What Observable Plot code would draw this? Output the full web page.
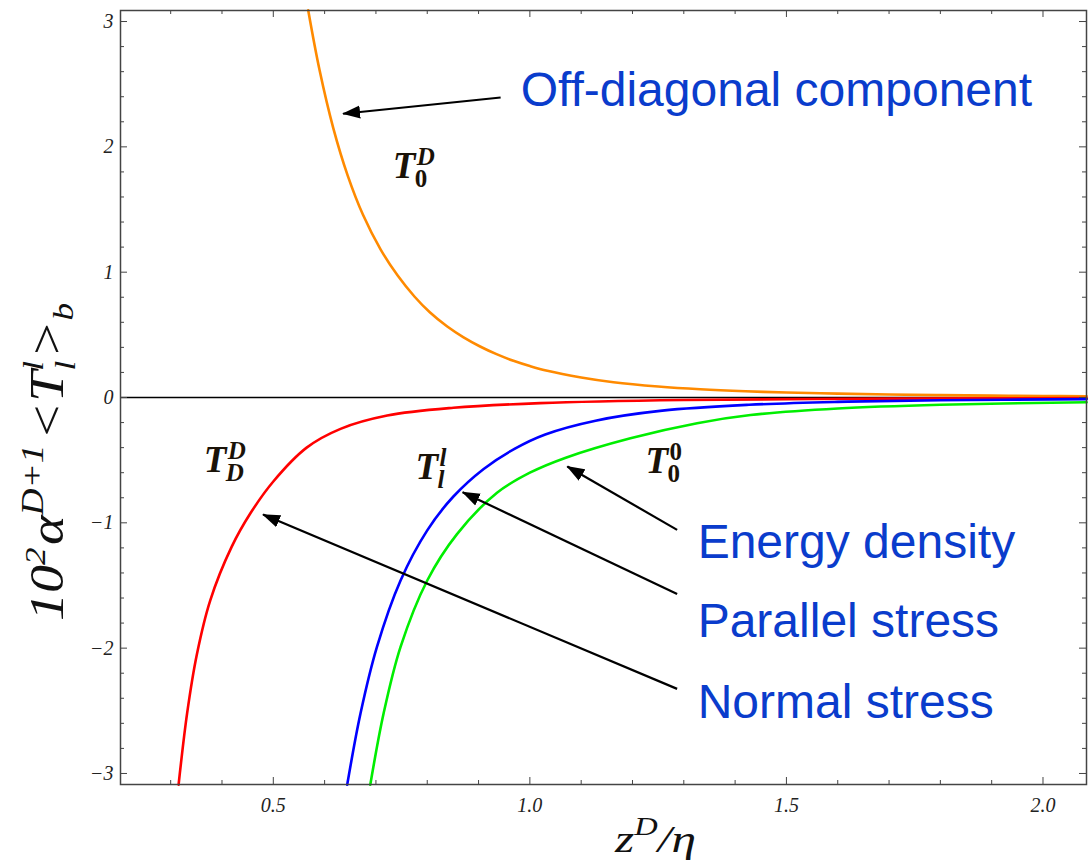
<!DOCTYPE html>
<html><head><meta charset="utf-8">
<script src="https://cdn.jsdelivr.net/npm/d3@7"></script>
<script src="https://cdn.jsdelivr.net/npm/@observablehq/plot@0.6"></script>
<style>body{margin:0;background:#fff}#chart{width:1090px;height:864px}</style>
</head><body><div id="chart"></div>
<script>
// ---- data ----
const offDiagX = [0.568,0.590,0.617,0.645,0.675,0.709,0.742,0.775,0.805,0.839,0.870,0.903,0.935,0.968,1.0,1.034,1.1,1.163,1.25,1.332,1.42,1.5,1.6,1.7,1.8,1.9,2.0,2.085];
const offDiagY = [3.09,2.615,2.148,1.771,1.456,1.182,0.975,0.806,0.68,0.566,0.482,0.407,0.346,0.293,0.251,0.213,0.16,0.122,0.088,0.066,0.05,0.04,0.031,0.024,0.019,0.015,0.012,0.01];
const normalX = [0.3154,0.332,0.351,0.377,0.419,0.456,0.500,0.565,0.631,0.722,0.851,1.02,1.3,1.7,2.085];
const normalY = [-3.09,-2.52,-2.05,-1.62,-1.19,-0.92,-0.67,-0.40,-0.25,-0.144,-0.082,-0.045,-0.02,-0.009,-0.005];
const parallelX = [0.644,0.670,0.702,0.748,0.800,0.851,0.910,0.970,1.03,1.128,1.258,1.427,1.6,1.8,2.085];
const parallelY = [-3.09,-2.52,-1.99,-1.46,-1.06,-0.79,-0.57,-0.41,-0.295,-0.185,-0.105,-0.058,-0.035,-0.022,-0.013];
const energyX = [0.689,0.715,0.748,0.800,0.858,0.936,1.0,1.07,1.196,1.326,1.43,1.6,1.8,2.085];
const energyY = [-3.09,-2.52,-1.99,-1.46,-1.09,-0.76,-0.60,-0.48,-0.325,-0.205,-0.14,-0.088,-0.058,-0.038];

const seriesNames = ["T0D","TDD","Tll","T00"];
const seriesColors = ["#ff8a00","#ff0000","#0000ff","#00ee00"];

const xMajor = [0.5,1.0,1.5,2.0];
const xMinor = [0.3,0.4,0.6,0.7,0.8,0.9,1.1,1.2,1.3,1.4,1.6,1.7,1.8,1.9];
const yMajor = [-3,-2,-1,0,1,2,3];
const yMinor = [-2.8,-2.6,-2.4,-2.2,-1.8,-1.6,-1.4,-1.2,-0.8,-0.6,-0.4,-0.2,0.2,0.4,0.6,0.8,1.2,1.4,1.6,1.8,2.2,2.4,2.6,2.8];

const noteText = ["Off-diagonal component","Energy density","Parallel stress","Normal stress"];
const noteX = [0.982,1.327,1.327,1.327];
const noteY = [2.322,-1.277,-1.915,-2.554];

const arrowX1 = [0.943,1.287,1.287,1.287];
const arrowY1 = [2.394,-1.056,-1.567,-2.325];
const arrowX2 = [0.636,1.073,0.869,0.480];
const arrowY2 = [2.264,-0.551,-0.756,-0.934];

const tLabelX = [0.733,0.3642,0.7771,1.2253];
const tLabelY = [1.755,-0.598,-0.654,-0.606];
const tSup = ["D","D","l","0"];
const tSub = ["0","D","l","0"];

// ---- build tables ----
const rows = [
  [offDiagX, offDiagY, "T0D"],
  [normalX, normalY, "TDD"],
  [parallelX, parallelY, "Tll"],
  [energyX, energyY, "T00"]
].flatMap(([xs, ys, name]) => xs.map((x, i) => ({x, y: ys[i], name})));
const notes = noteText.map((t, i) => ({t, x: noteX[i], y: noteY[i]}));
const arrows = arrowX1.map((x1, i) => ({x1, y1: arrowY1[i], x2: arrowX2[i], y2: arrowY2[i]}));
const tLabels = tLabelX.map((x, i) => ({x, y: tLabelY[i], sup: tSup[i], sub: tSub[i]}));

const W = 1090, H = 864, mL = 120, mR = 4, mT = 10, mB = 80;
const innerW = W - mL - mR, innerH = H - mT - mB;
const serif = "'Liberation Serif', 'DejaVu Serif', serif";
const isLetter = s => /[A-Za-z]/.test(s);
const tFill = "#1a1208";
const supOpts = (italic) => ({x: "x", y: "y", text: "sup", textAnchor: "start", lineAnchor: "bottom", dx: 24, dy: -13,
  fontSize: 25, fontWeight: "bold", fontStyle: italic ? "italic" : "normal", fontFamily: serif, fill: tFill});
const subOpts = (italic) => ({x: "x", y: "y", text: "sub", textAnchor: "start", lineAnchor: "bottom", dx: 22, dy: 9,
  fontSize: 25, fontWeight: "bold", fontStyle: italic ? "italic" : "normal", fontFamily: serif, fill: tFill});

const svg = Plot.plot({
  width: W, height: H,
  marginLeft: mL, marginRight: mR, marginTop: mT, marginBottom: mB,
  x: {domain: [0.2022, 2.0848]},
  y: {domain: [-3.088, 3.088]},
  color: {domain: seriesNames, range: seriesColors},
  style: {background: "#fff", overflow: "visible"},
  marks: [
    Plot.ruleY([0], {stroke: "#000", strokeWidth: 1.5}),
    Plot.line(rows, {x: "x", y: "y", z: "name", stroke: "name", strokeWidth: 2.6, curve: "catmull-rom"}),
    // tick marks (inward)
    Plot.tickX(xMajor, {insetTop: innerH - 7, stroke: "#444"}),
    Plot.tickX(xMinor, {insetTop: innerH - 4, stroke: "#444"}),
    Plot.tickX(xMajor, {insetBottom: innerH - 7, stroke: "#444"}),
    Plot.tickX(xMinor, {insetBottom: innerH - 4, stroke: "#444"}),
    Plot.tickY(yMajor, {insetRight: innerW - 7, stroke: "#444"}),
    Plot.tickY(yMinor, {insetRight: innerW - 4, stroke: "#444"}),
    Plot.tickY(yMajor, {insetLeft: innerW - 7, stroke: "#444"}),
    Plot.tickY(yMinor, {insetLeft: innerW - 4, stroke: "#444"}),
    Plot.axisX({ticks: xMajor, tickSize: 0, tickPadding: 13, tickFormat: d => d.toFixed(1), label: null,
      fontSize: 20, fontStyle: "italic", fontFamily: serif, fill: "#222"}),
    Plot.axisY({ticks: yMajor, tickSize: 0, tickPadding: 7, tickFormat: d => d < 0 ? "\u2212" + Math.abs(d) : String(d), label: null,
      fontSize: 20, fontStyle: "italic", fontFamily: serif, fill: "#222"}),
    Plot.frame({stroke: "#444", strokeWidth: 1.5}),
    // arrows
    Plot.link(arrows, {x1: "x1", y1: "y1", x2: "x2", y2: "y2", stroke: "#000", strokeWidth: 2.2}),
    // blue annotations
    Plot.text(notes, {x: "x", y: "y", text: "t", textAnchor: "start", lineAnchor: "bottom",
      fontSize: 48, fontFamily: "'Liberation Sans', Arial, sans-serif", fill: "#0a3ccc"}),
    // T labels
    Plot.text(tLabels, {x: "x", y: "y", text: () => "T", textAnchor: "start", lineAnchor: "bottom",
      fontSize: 37, fontWeight: "bold", fontStyle: "italic", fontFamily: serif, fill: tFill}),
    Plot.text(tLabels.filter(d => isLetter(d.sup)), supOpts(true)),
    Plot.text(tLabels.filter(d => !isLetter(d.sup)), supOpts(false)),
    Plot.text(tLabels.filter(d => isLetter(d.sub)), subOpts(true)),
    Plot.text(tLabels.filter(d => !isLetter(d.sub)), subOpts(false))
  ]
});

// filled arrowheads on the link paths
const root = d3.select(svg);
root.append("defs").append("marker")
  .attr("id", "ahead").attr("markerUnits", "userSpaceOnUse")
  .attr("viewBox", "0 -7 18 14").attr("refX", 17).attr("refY", 0)
  .attr("markerWidth", 18).attr("markerHeight", 14).attr("orient", "auto")
  .append("path").attr("d", "M0,-6.5L18,0L0,6.5Z").attr("fill", "#000");
root.selectAll("g[aria-label='link'] path").attr("marker-end", "url(#ahead)");

// axis titles with super/subscripts
const yl = root.append("text")
  .attr("transform", "translate(63,462) rotate(-90) scale(1.17,1)")
  .attr("text-anchor", "middle")
  .style("font-family", serif).style("font-style", "italic").style("font-size", "48px")
  .attr("fill", "#111");
yl.append("tspan").text("10");
yl.append("tspan").attr("dy", -18).style("font-size", "30px").text("2");
yl.append("tspan").attr("dy", 18).attr("dx", 2).text("\u03b1");
yl.append("tspan").attr("dy", -20).style("font-size", "32px").text("D+1");
yl.append("tspan").attr("dy", 20).attr("dx", 4).text("<");
yl.append("tspan").text("T");
yl.append("tspan").attr("dy", -20).style("font-size", "30px").text("l");
yl.append("tspan").attr("dy", 32).attr("dx", -8).style("font-size", "30px").text("l");
yl.append("tspan").attr("dy", -12).attr("dx", 2).text(">");
yl.append("tspan").attr("dy", 10).style("font-size", "30px").text("b");

const xl = root.append("text")
  .attr("transform", "translate(615,852) scale(1.3,1)")
  .attr("text-anchor", "start")
  .style("font-family", serif).style("font-style", "italic").style("font-size", "38px")
  .attr("fill", "#111");
xl.append("tspan").text("z");
xl.append("tspan").attr("dy", -17).style("font-size", "25px").text("D");
xl.append("tspan").attr("dy", 17).text("/\u03b7");

document.getElementById("chart").appendChild(svg);
</script>
</body></html>
